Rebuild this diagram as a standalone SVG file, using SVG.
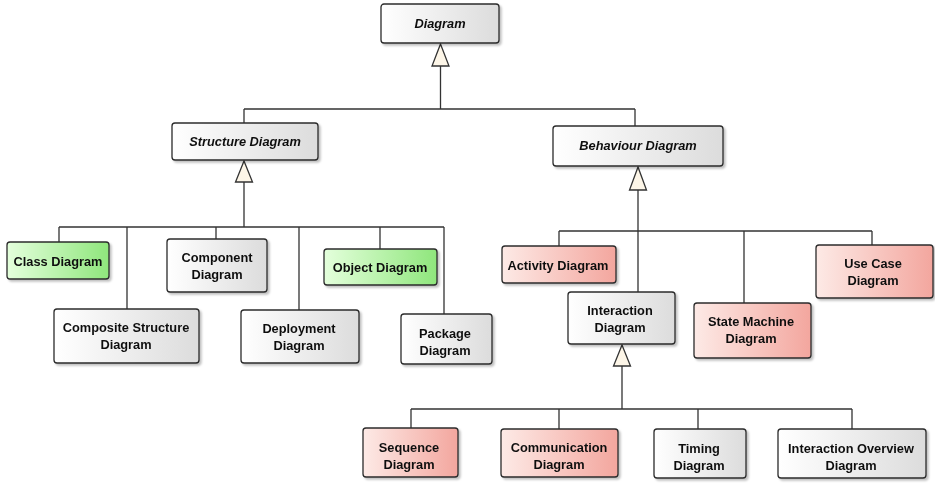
<svg xmlns="http://www.w3.org/2000/svg" width="935" height="484" viewBox="0 0 935 484">
<style>
.n{stroke:#2b2b2b;stroke-width:1.3}
.w{fill:url(#gw)}
.g{fill:url(#gg)}
.r{fill:url(#gr)}
.t{font-family:"Liberation Sans",Arial,sans-serif;font-size:12.8px;font-weight:bold;fill:#111;text-anchor:middle}
.i{font-style:italic}
.c{fill:none;stroke:#333;stroke-width:1.3}
.tri{fill:#fdf6e8;stroke:#333;stroke-width:1.3}
</style>
<defs>
<linearGradient id="gw" x1="0" y1="0" x2="1" y2="0"><stop offset="0" stop-color="#ffffff"/><stop offset="1" stop-color="#dcdcdc"/></linearGradient>
<linearGradient id="gg" x1="0" y1="0" x2="1" y2="0"><stop offset="0" stop-color="#e4ffdc"/><stop offset="1" stop-color="#8fe67c"/></linearGradient>
<linearGradient id="gr" x1="0" y1="0" x2="1" y2="0"><stop offset="0" stop-color="#fdeae6"/><stop offset="1" stop-color="#f3a69e"/></linearGradient>
<filter id="sh" x="-10%" y="-10%" width="130%" height="140%"><feDropShadow dx="2" dy="2" stdDeviation="1.2" flood-color="#000" flood-opacity="0.25"/></filter>
</defs>
<g id="connectors">
<path class="c" d="M440.5 66V109M244 109H635M244 109V123M635 109V126"/>
<polygon class="tri" points="440.5,44 432,66 449,66"/>
<path class="c" d="M244 182V227M59 227H444M59 227V242M127 227V309M216 227V239M299 227V310M380 227V249M444 227V314"/>
<polygon class="tri" points="244,161 235.5,182 252.5,182"/>
<path class="c" d="M638 190V231M559 231H872M559 231V246M638 231V292M744 231V303M872 231V245"/>
<polygon class="tri" points="638,167 629.5,190 646.5,190"/>
<path class="c" d="M622 366V409M411 409H852M411 409V428M559 409V429M698 409V429M852 409V429"/>
<polygon class="tri" points="622,345 613.5,366 630.5,366"/>
</g>
<g id="diagram" filter="url(#sh)"><rect class="n w" x="381" y="4" width="118" height="39" rx="3"/><text class="t i" x="440" y="28">Diagram</text></g>
<g id="structure" filter="url(#sh)"><rect class="n w" x="172" y="123" width="146" height="37" rx="3"/><text class="t i" x="245" y="146">Structure Diagram</text></g>
<g id="behaviour" filter="url(#sh)"><rect class="n w" x="553" y="126" width="170" height="40" rx="3"/><text class="t i" x="638" y="150">Behaviour Diagram</text></g>
<g id="class" filter="url(#sh)"><rect class="n g" x="7" y="242" width="102" height="37" rx="3"/><text class="t" x="58" y="266">Class Diagram</text></g>
<g id="component" filter="url(#sh)"><rect class="n w" x="167" y="239" width="100" height="53" rx="3"/><text class="t" x="217" y="262">Component</text><text class="t" x="217" y="279">Diagram</text></g>
<g id="composite" filter="url(#sh)"><rect class="n w" x="54" y="309" width="145" height="54" rx="3"/><text class="t" x="126" y="332">Composite Structure</text><text class="t" x="126" y="349">Diagram</text></g>
<g id="deployment" filter="url(#sh)"><rect class="n w" x="241" y="310" width="118" height="53" rx="3"/><text class="t" x="299" y="333">Deployment</text><text class="t" x="299" y="350">Diagram</text></g>
<g id="object" filter="url(#sh)"><rect class="n g" x="324" y="249" width="113" height="36" rx="3"/><text class="t" x="380" y="272">Object Diagram</text></g>
<g id="package" filter="url(#sh)"><rect class="n w" x="401" y="314" width="91" height="50" rx="3"/><text class="t" x="445" y="338">Package</text><text class="t" x="445" y="355">Diagram</text></g>
<g id="activity" filter="url(#sh)"><rect class="n r" x="502" y="246" width="114" height="37" rx="3"/><text class="t" x="558" y="270">Activity Diagram</text></g>
<g id="interaction" filter="url(#sh)"><rect class="n w" x="568" y="292" width="107" height="52" rx="3"/><text class="t" x="620" y="315">Interaction</text><text class="t" x="620" y="332">Diagram</text></g>
<g id="statemachine" filter="url(#sh)"><rect class="n r" x="694" y="303" width="117" height="55" rx="3"/><text class="t" x="751" y="326">State Machine</text><text class="t" x="751" y="343">Diagram</text></g>
<g id="usecase" filter="url(#sh)"><rect class="n r" x="816" y="245" width="117" height="53" rx="3"/><text class="t" x="873" y="268">Use Case</text><text class="t" x="873" y="285">Diagram</text></g>
<g id="sequence" filter="url(#sh)"><rect class="n r" x="363" y="428" width="95" height="49" rx="3"/><text class="t" x="409" y="452">Sequence</text><text class="t" x="409" y="469">Diagram</text></g>
<g id="communication" filter="url(#sh)"><rect class="n r" x="501" y="429" width="117" height="48" rx="3"/><text class="t" x="559" y="452">Communication</text><text class="t" x="559" y="469">Diagram</text></g>
<g id="timing" filter="url(#sh)"><rect class="n w" x="654" y="429" width="92" height="49" rx="3"/><text class="t" x="699" y="453">Timing</text><text class="t" x="699" y="470">Diagram</text></g>
<g id="overview" filter="url(#sh)"><rect class="n w" x="778" y="429" width="148" height="49" rx="3"/><text class="t" x="851" y="453">Interaction Overview</text><text class="t" x="851" y="470">Diagram</text></g>
</svg>
